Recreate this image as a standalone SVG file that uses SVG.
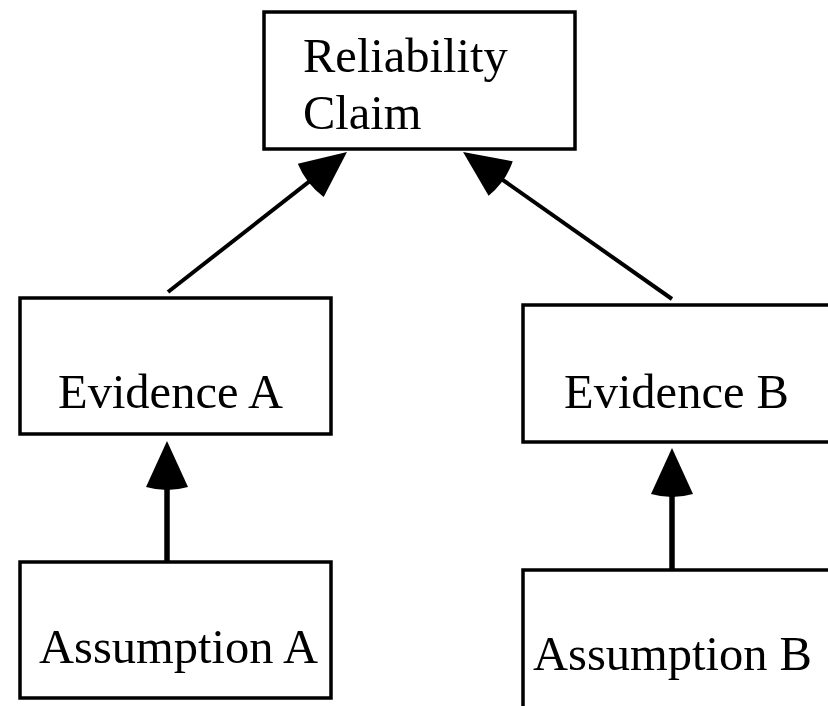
<svg xmlns="http://www.w3.org/2000/svg" width="828" height="706" viewBox="0 0 828 706">
  <style>
    .box { fill: #ffffff; stroke: #000000; stroke-width: 3.5; }
    .label { font-family: "Liberation Serif", "Times New Roman", serif; font-size: 48.5px; fill: #000000; }
    .edge { stroke: #000000; fill: none; }
  </style>
  <defs>
    <marker id="arrow" markerUnits="userSpaceOnUse" viewBox="-8 0 56 42" markerWidth="56" markerHeight="42" refX="4" refY="21" orient="auto">
      <path d="M0,0 L46,21 L0,42 Q-6,21 0,0 Z" fill="#000000"/>
    </marker>
  </defs>
  <rect width="828" height="706" fill="#ffffff"/>
  <g id="connectors">
    <line class="edge" x1="168" y1="292" x2="313.9" y2="177.9" stroke-width="4" marker-end="url(#arrow)"/>
    <line class="edge" x1="672" y1="299" x2="497.4" y2="176.2" stroke-width="4" marker-end="url(#arrow)"/>
    <line class="edge" x1="167" y1="562" x2="167" y2="483" stroke-width="5.5" marker-end="url(#arrow)"/>
    <line class="edge" x1="672" y1="570" x2="672" y2="490" stroke-width="5.5" marker-end="url(#arrow)"/>
  </g>
  <g id="claim">
    <rect class="box" x="264" y="12" width="311" height="137"/>
    <text class="label" x="303" y="72">Reliability</text>
    <text class="label" x="303" y="129">Claim</text>
  </g>
  <g id="evidenceA">
    <rect class="box" x="20" y="298" width="311" height="136"/>
    <text class="label" x="58" y="408">Evidence A</text>
  </g>
  <g id="evidenceB">
    <rect class="box" x="523" y="305" width="320" height="137"/>
    <text class="label" x="564" y="408">Evidence B</text>
  </g>
  <g id="assumptionA">
    <rect class="box" x="20" y="562" width="311" height="136"/>
    <text class="label" x="39" y="663">Assumption A</text>
  </g>
  <g id="assumptionB">
    <rect class="box" x="523" y="570" width="320" height="150"/>
    <text class="label" x="533" y="670">Assumption B</text>
  </g>
</svg>
